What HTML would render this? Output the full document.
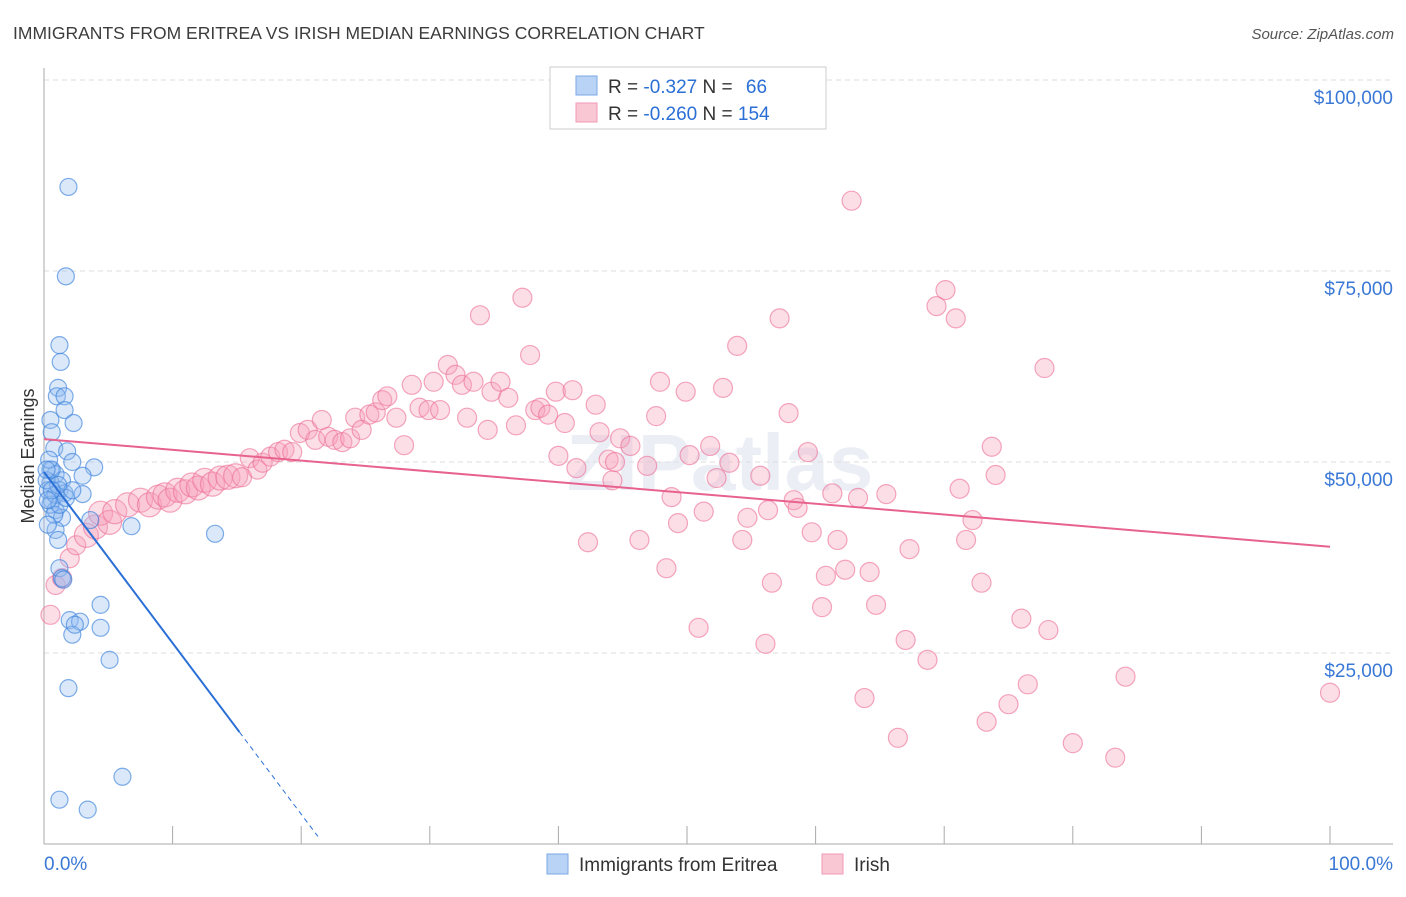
<!DOCTYPE html>
<html><head><meta charset="utf-8"><style>
body{margin:0;background:#fff;font-family:"Liberation Sans",sans-serif;}
svg text{font-family:"Liberation Sans",sans-serif;}
</style></head><body>
<svg id="chart" width="1406" height="892" xmlns="http://www.w3.org/2000/svg">
<text x="13" y="39" font-size="17.5" fill="#3c3c3c">IMMIGRANTS FROM ERITREA VS IRISH MEDIAN EARNINGS CORRELATION CHART</text>
<text x="1394" y="39" font-size="15" fill="#555" font-style="italic" text-anchor="end">Source: ZipAtlas.com</text>
<text x="720" y="490" font-size="80" fill="#dfe6ef" text-anchor="middle" font-weight="bold" opacity="0.6">ZIPatlas</text>
<g id="grid"></g>
<g id="axes"></g>
<g id="pinkPts"></g>
<g id="bluePts"></g>
<g id="trends"></g>
<g>
<rect x="550" y="67" width="276" height="62" fill="#fff" stroke="#ccc"/>
<rect x="576" y="76" width="21" height="19" fill="#b8d3f5" stroke="#7aa8e6"/>
<text x="608" y="93" font-size="19" fill="#333">R = <tspan fill="#2a6fd6">-0.327</tspan>   N = <tspan fill="#2a6fd6" dx="8">66</tspan></text>
<rect x="576" y="103" width="21" height="19" fill="#f9c6d4" stroke="#f09ab3"/>
<text x="608" y="120" font-size="19" fill="#333">R = <tspan fill="#2a6fd6">-0.260</tspan>   N = <tspan fill="#2a6fd6">154</tspan></text>
</g>
<g>
<rect x="547" y="854" width="21" height="20" fill="#b8d3f5" stroke="#7aa8e6"/>
<text x="579" y="871" font-size="19" fill="#333">Immigrants from Eritrea</text>
<rect x="822" y="854" width="21" height="20" fill="#f9c6d4" stroke="#f09ab3"/>
<text x="854" y="871" font-size="19" fill="#333">Irish</text>
</g>
<text transform="translate(34,456) rotate(-90)" font-size="18" fill="#333" text-anchor="middle">Median Earnings</text>
</svg>
<script>
const yTicks=[25000,50000,75000,100000];
const yTickLabels=["$25,000","$50,000","$75,000","$100,000"];
const xTickLabels=["0.0%","100.0%"];
const blueX=[1.9,1.7,1.2,1.3,1.1,1.0,1.6,1.6,0.5,2.3,0.6,0.8,1.8,2.2,3.9,0.5,0.9,1.4,3.0,0.5,1.2,3.0,0.6,1.6,0.9,1.4,3.6,0.9,6.8,1.2,1.4,4.4,2.0,2.8,2.2,4.4,5.1,1.9,6.1,1.2,3.4,0.3,0.2,0.5,0.8,0.3,1.1,0.6,0.4,0.9,1.2,1.7,2.2,13.3,1.5,2.4,0.2,1.1,0.6,0.3];
const blueY=[86.0,74.3,65.3,63.1,59.7,58.6,58.6,56.8,55.5,55.1,53.9,51.8,51.4,50.0,49.3,49.0,48.4,47.6,48.2,47.3,46.3,45.8,45.0,45.9,43.7,42.7,42.4,41.1,41.6,36.1,34.8,31.3,29.3,29.1,27.4,28.3,24.1,20.4,8.8,5.8,4.5,46.3,47.6,44.4,43.1,41.8,39.8,49.0,50.3,45.7,44.4,45.3,46.3,40.6,34.6,28.7,49.0,47.0,46.3,45.0];
const pinkX=[0.5,0.9,1.4,2.0,2.5,3.3,4.0,4.4,5.1,5.5,6.5,7.5,8.2,8.9,9.4,9.8,10.4,11.0,11.5,12.0,12.5,13.1,13.7,14.3,14.9,15.4,16.0,16.6,17.0,17.6,18.2,18.7,19.3,19.9,20.5,21.1,21.6,22.1,22.6,23.2,23.8,24.2,24.7,25.3,25.8,26.3,26.7,27.4,28.0,28.6,29.2,29.9,30.3,30.8,31.4,32.0,32.5,32.9,33.4,33.9,34.5,34.8,35.5,36.1,36.7,37.2,37.8,38.2,38.6,39.2,39.8,40.0,40.5,41.1,41.4,42.3,42.9,43.2,43.9,44.2,44.4,44.8,45.6,46.3,46.9,47.6,47.9,48.4,48.8,49.3,49.9,50.2,50.9,51.3,51.8,52.3,52.8,53.3,53.9,54.3,54.7,55.7,56.1,56.3,56.6,57.2,57.9,58.3,58.6,59.4,59.7,60.5,60.8,61.3,61.7,62.3,62.8,63.3,63.8,64.2,64.7,65.5,66.4,67.0,67.3,68.7,69.4,70.1,70.9,71.2,71.7,72.2,72.9,73.3,73.7,74.0,75.0,76.0,76.5,77.8,78.1,80.0,83.3,84.1,100];
const pinkY=[30.0,33.9,34.8,37.4,39.1,40.4,41.5,43.3,42.1,43.5,44.4,45.0,44.4,45.4,45.7,45.0,46.3,46.1,47.0,46.6,47.6,47.1,47.9,48.0,48.2,48.0,50.5,49.0,49.9,50.7,51.3,51.6,51.3,53.8,54.2,52.9,55.5,53.3,52.9,52.6,53.1,55.8,54.2,56.2,56.5,58.1,58.6,55.8,52.2,60.1,57.1,56.8,60.5,56.8,62.7,61.4,60.1,55.8,60.5,69.2,54.2,59.2,60.5,58.4,54.8,71.5,64.0,56.8,57.1,56.2,59.2,50.8,55.1,59.4,49.2,39.5,57.5,53.9,50.3,47.6,50.0,53.1,52.1,39.8,49.5,56.0,60.5,36.1,45.4,42.0,59.2,50.9,28.3,43.5,52.1,47.9,59.7,49.9,65.2,39.8,42.7,48.2,26.2,43.7,34.2,68.8,56.4,45.0,44.0,51.3,40.8,31.0,35.1,45.9,39.8,35.9,84.2,45.3,19.1,35.6,31.3,45.8,13.9,26.7,38.6,24.1,70.4,72.5,68.8,46.5,39.8,42.4,34.2,16.0,52.0,48.3,18.3,29.5,20.9,62.3,28.0,13.2,11.3,21.9,19.8];
const pinkTrend=[53.0,38.9];
const blueTrend=[48.7,-2.24];
const NS="http://www.w3.org/2000/svg";
const X=p=>44+p*12.86;
const Y=v=>844-v*0.00764;
function mk(t,a,parent){const e=document.createElementNS(NS,t);for(const k in a)e.setAttribute(k,a[k]);parent.appendChild(e);return e;}
const grid=document.getElementById('grid');
yTicks.forEach((v,i)=>{
 const l=mk('line',{x1:44,x2:1393,y1:Y(v),y2:Y(v),stroke:'#ddd','stroke-dasharray':'5,4'},grid);
 
 
 const t=mk('text',{x:1393,y:Y(v)+24,'font-size':19,fill:'#3a78d6','text-anchor':'end'},grid);
 t.textContent=yTickLabels[i];
 
 
});
const axes=document.getElementById('axes');
const yl=mk('line',{x1:44,x2:44,y1:68,y2:844,stroke:'#aaa'},axes);


const xl=mk('line',{x1:44,x2:1393,y1:844,y2:844,stroke:'#aaa'},axes);


for(let i=0;i<=10;i++){
 const tk=mk('line',{x1:X(i*10),x2:X(i*10),y1:826,y2:844,stroke:'#aaa'},axes);
 
 
}
const xt0=mk('text',{x:44,y:870,'font-size':19,fill:'#3a78d6'},axes);
xt0.textContent=xTickLabels[0];


const xt1=mk('text',{x:1393,y:870,'font-size':19,fill:'#3a78d6','text-anchor':'end'},axes);
xt1.textContent=xTickLabels[1];


const pg=document.getElementById('pinkPts');
pinkX.forEach((x,i)=>{
 const c=mk('circle',{cx:X(x),cy:Y(pinkY[i]*1000),r:(x>3&&x<15)?12:9.5,fill:'rgba(246,160,186,0.35)',stroke:'rgba(236,110,150,0.6)','stroke-width':1.2},pg);
 
 
});
const bg=document.getElementById('bluePts');
blueX.forEach((x,i)=>{
 const c=mk('circle',{cx:X(x),cy:Y(blueY[i]*1000),r:8.5,fill:'rgba(150,190,240,0.35)',stroke:'rgba(60,130,220,0.65)','stroke-width':1.2},bg);
 
 
});
const tg=document.getElementById('trends');
const pl=mk('line',{x1:X(0),y1:Y(pinkTrend[0]*1000),x2:X(100),y2:Y(pinkTrend[1]*1000),stroke:'#e8628f','stroke-width':2},tg);


const bv=p=>Y((blueTrend[0]+blueTrend[1]*p)*1000);
const bl=mk('line',{x1:X(0),y1:bv(0),x2:X(15.2),y2:bv(15.2),stroke:'#2a6fd6','stroke-width':2},tg);


const bd=mk('line',{x1:X(15.2),y1:bv(15.2),x2:X(21.3),y2:bv(21.3),stroke:'#2a6fd6','stroke-width':1,'stroke-dasharray':'5,4'},tg);


</script>
</body></html>
